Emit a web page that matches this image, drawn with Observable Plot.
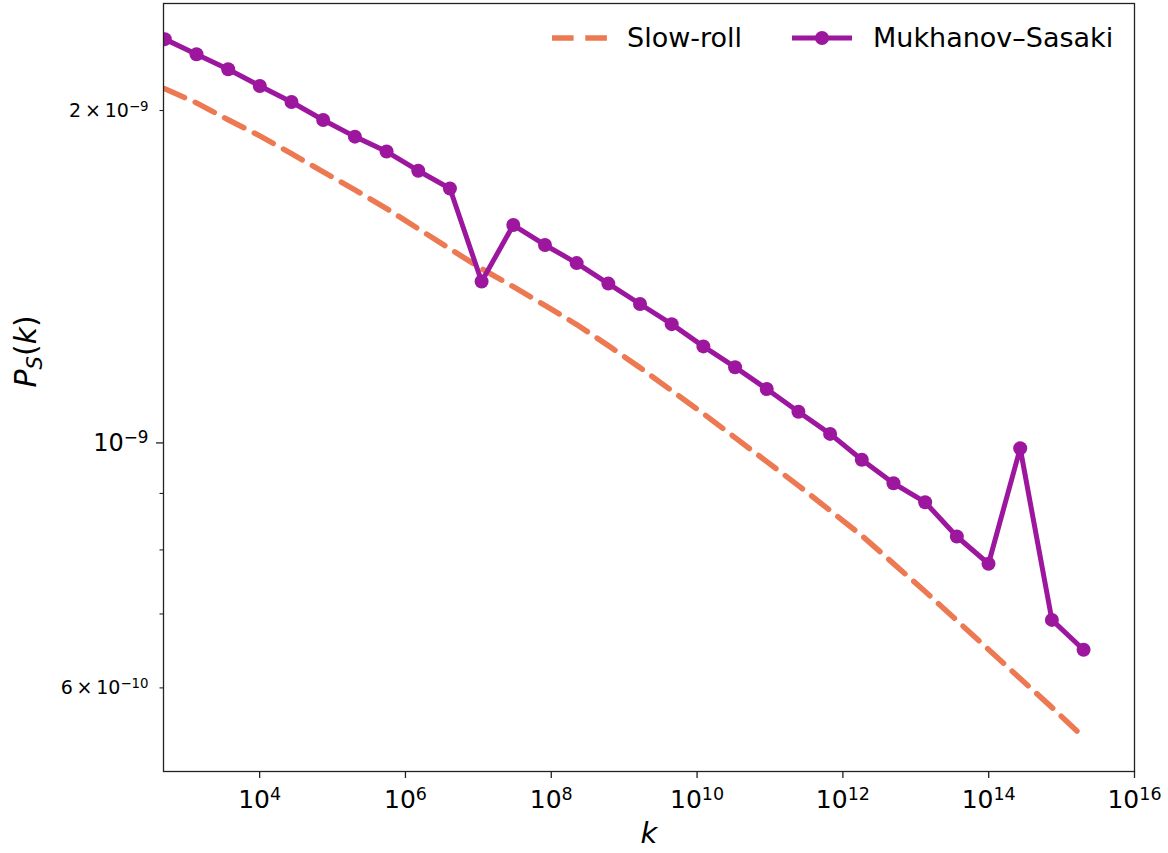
<!DOCTYPE html>
<html>
<head>
<meta charset="utf-8">
<script src="https://cdn.jsdelivr.net/npm/d3@7"></script>
<script src="https://cdn.jsdelivr.net/npm/@observablehq/plot@0.6"></script>
<style>
  html, body { margin: 0; padding: 0; background: #fff; }
  #wrap { position: relative; width: 1168px; height: 853px; font-family: "DejaVu Sans", sans-serif; }
  #legend { position: absolute; left: 552px; top: 20px; display: flex; align-items: center; height: 36px; font-size: 27px; line-height: 36px; color: #000; white-space: nowrap; }
  #legend svg { display: block; }
</style>
</head>
<body>
<div id="wrap"></div>
<script>
// ---- data ----
const k = [500, 1360, 3700, 1.006e4, 2.736e4, 7.443e4, 2.025e5, 5.507e5, 1.498e6, 4.074e6,
           1.108e7, 3.015e7, 8.199e7, 2.230e8, 6.066e8, 1.650e9, 4.487e9, 1.220e10, 3.320e10, 9.030e10,
           2.456e11, 6.681e11, 1.817e12, 4.943e12, 1.344e13, 3.656e13, 9.945e13, 2.705e14, 7.358e14, 2.001e15];
const mukhanovSasaki = [2.321e-9, 2.249e-9, 2.180e-9, 2.105e-9, 2.036e-9, 1.961e-9, 1.894e-9, 1.836e-9, 1.764e-9, 1.700e-9,
                        1.400e-9, 1.575e-9, 1.511e-9, 1.455e-9, 1.394e-9, 1.336e-9, 1.281e-9, 1.223e-9, 1.171e-9, 1.119e-9,
                        1.067e-9, 1.019e-9, 0.9654e-9, 0.9193e-9, 0.8837e-9, 0.8227e-9, 0.7773e-9, 0.9888e-9, 0.6914e-9, 0.6497e-9];
const slowRoll = [2.093e-9, 2.032e-9, 1.962e-9, 1.897e-9, 1.828e-9, 1.760e-9, 1.695e-9, 1.630e-9, 1.563e-9, 1.499e-9,
                  1.438e-9, 1.385e-9, 1.332e-9, 1.280e-9, 1.225e-9, 1.170e-9, 1.115e-9, 1.063e-9, 1.011e-9, 0.9618e-9,
                  0.9149e-9, 0.8685e-9, 0.8243e-9, 0.7775e-9, 0.7336e-9, 0.6906e-9, 0.6501e-9, 0.6118e-9, 0.5761e-9, 0.5413e-9];

const xTicks = [1e4, 1e6, 1e8, 1e10, 1e12, 1e14, 1e16];
const xTickLabels = ["10^4", "10^6", "10^8", "10^10", "10^12", "10^14", "10^16"];
const yMajorTicks = [1e-9];
const yMajorLabels = ["10^\u22129"];
const yMinorTicks = [2e-9, 9e-10, 8e-10, 7e-10, 6e-10];
const yMinorLabels = ["2\u2009\u00d7\u200910^\u22129", "", "", "", "6\u2009\u00d7\u200910^\u221210"];

const seriesNames = ["Slow-roll", "Mukhanov\u2013Sasaki"];
const seriesColors = ["#ed7953", "#9c179e"];

// ---- tables ----
const srData = k.map((v, i) => ({k: v, p: slowRoll[i]}));
const msData = k.map((v, i) => ({k: v, p: mukhanovSasaki[i]}));
const xLab = new Map(xTicks.map((t, i) => [t, xTickLabels[i]]));
const yMajLab = new Map(yMajorTicks.map((t, i) => [t, yMajorLabels[i]]));
const yMinLab = new Map(yMinorTicks.map((t, i) => [t, yMinorLabels[i]]));

const dash = "21.6,11.7";

const chart = Plot.plot({
  width: 1168,
  height: 853,
  marginLeft: 163,
  marginRight: 34,
  marginTop: 3,
  marginBottom: 82,
  style: {fontFamily: "DejaVu Sans", background: "white", color: "#000"},
  x: {type: "log", domain: [480, 1e16]},
  y: {type: "log", domain: [5.04e-10, 2.5e-9]},
  marks: [
    Plot.line(srData, {x: "k", y: "p", stroke: seriesColors[0], strokeWidth: 5.5, strokeDasharray: dash, clip: true}),
    Plot.line(msData, {x: "k", y: "p", stroke: seriesColors[1], strokeWidth: 5, clip: true}),
    Plot.dot(msData, {x: "k", y: "p", r: 7, fill: seriesColors[1], clip: true}),
    Plot.frame({stroke: "#222", strokeWidth: 1.3}),
    Plot.axisX({ticks: xTicks, tickFormat: d => xLab.get(d), tickSize: 7, tickPadding: 12, fontSize: 25,
                label: null, stroke: "#222", strokeWidth: 1.3, fill: "#000"}),
    Plot.axisY({ticks: yMajorTicks, tickFormat: d => yMajLab.get(d), tickSize: 7, tickPadding: 8, fontSize: 24,
                label: null, stroke: "#222", strokeWidth: 1.3, fill: "#000"}),
    Plot.axisY({ticks: yMinorTicks, tickFormat: d => yMinLab.get(d), tickSize: 3.5, tickPadding: 11.5, fontSize: 19,
                label: null, stroke: "#222", strokeWidth: 1.1, fill: "#000"}),
    Plot.text(["P_S(k)"], {frameAnchor: "left", dx: -137, rotate: -90, fontSize: 30, fill: "#000"}),
    Plot.text(["k"], {frameAnchor: "bottom", dy: 71, fontSize: 29, fontStyle: "italic", fill: "#000"})
  ]
});

// ---- typographic post-processing (superscripts / subscripts) ----
const NS = "http://www.w3.org/2000/svg";
function tspan(txt, attrs) {
  const t = document.createElementNS(NS, "tspan");
  t.textContent = txt;
  for (const a in (attrs || {})) t.setAttribute(a, attrs[a]);
  return t;
}
chart.querySelectorAll("text").forEach(t => {
  const s = t.textContent;
  if (s === "P_S(k)") {
    t.textContent = "";
    t.append(
      tspan("P", {"font-style": "italic"}),
      tspan("S", {"font-style": "italic", "font-size": "70%", "dy": "6"}),
      tspan("(", {"dy": "-6"}),
      tspan("k", {"font-style": "italic"}),
      tspan(")")
    );
  } else if (s.includes("^")) {
    const i = s.indexOf("^");
    t.textContent = "";
    t.append(tspan(s.slice(0, i)), tspan(s.slice(i + 1), {"font-size": "70%", "dy": "-0.45em"}));
  }
});

const wrap = document.getElementById("wrap");
wrap.append(chart);

// ---- legend (inside the frame, top right, no box) ----
const leg = document.createElement("div");
leg.id = "legend";
leg.innerHTML =
  `<svg width="55" height="36"><line x1="0" x2="55" y1="18" y2="18" stroke="${seriesColors[0]}" stroke-width="5.5" stroke-dasharray="${dash}"/></svg>` +
  `<span style="margin-left:20px;margin-right:50px">${seriesNames[0]}</span>` +
  `<svg width="60" height="36"><line x1="0" x2="60" y1="18" y2="18" stroke="${seriesColors[1]}" stroke-width="5"/><circle cx="30" cy="18" r="7" fill="${seriesColors[1]}"/></svg>` +
  `<span style="margin-left:21px">${seriesNames[1]}</span>`;
wrap.append(leg);
</script>
</body>
</html>
